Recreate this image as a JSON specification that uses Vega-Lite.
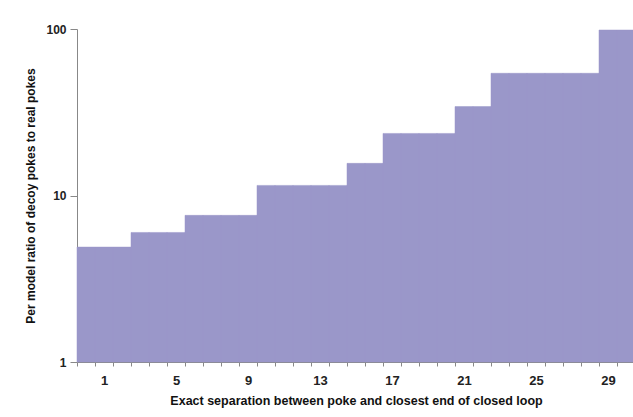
{
  "$schema": "https://vega.github.io/schema/vega-lite/v6.json",
  "autosize": {"type": "none"},
  "width": 558,
  "height": 333,
  "padding": {"left": 77, "top": 29, "right": 0, "bottom": 55},
  "background": "white",
  "config": {"view": {"stroke": null}, "font": "Liberation Sans"},
  "data": {"values": [
    {"sep": 0, "ratio": 4.9}, {"sep": 1, "ratio": 4.9}, {"sep": 2, "ratio": 4.9},
    {"sep": 3, "ratio": 6.0}, {"sep": 4, "ratio": 6.0}, {"sep": 5, "ratio": 6.0},
    {"sep": 6, "ratio": 7.6}, {"sep": 7, "ratio": 7.6}, {"sep": 8, "ratio": 7.6}, {"sep": 9, "ratio": 7.6},
    {"sep": 10, "ratio": 11.5}, {"sep": 11, "ratio": 11.5}, {"sep": 12, "ratio": 11.5}, {"sep": 13, "ratio": 11.5}, {"sep": 14, "ratio": 11.5},
    {"sep": 15, "ratio": 15.6}, {"sep": 16, "ratio": 15.6},
    {"sep": 17, "ratio": 23.6}, {"sep": 18, "ratio": 23.6}, {"sep": 19, "ratio": 23.6}, {"sep": 20, "ratio": 23.6},
    {"sep": 21, "ratio": 34.2}, {"sep": 22, "ratio": 34.2},
    {"sep": 23, "ratio": 54.2}, {"sep": 24, "ratio": 54.2}, {"sep": 25, "ratio": 54.2}, {"sep": 26, "ratio": 54.2}, {"sep": 27, "ratio": 54.2}, {"sep": 28, "ratio": 54.2},
    {"sep": 29, "ratio": 98.6}, {"sep": 30, "ratio": 98.6}
  ]},
  "mark": {"type": "bar", "color": "#9a97c9", "stroke": "#9a97c9", "strokeWidth": 0.5},
  "encoding": {
    "x": {
      "field": "sep", "type": "ordinal",
      "scale": {"paddingInner": 0, "paddingOuter": 0},
      "axis": {
        "title": "Exact separation between poke and closest end of closed loop",
        "titleFontSize": 12.5, "titleFontWeight": "bold", "titleColor": "#111", "titlePadding": 7,
        "labelAngle": 0, "labelFontSize": 13, "labelFontWeight": "bold", "labelColor": "#222",
        "labelPadding": 8,
        "labelExpr": "(datum.value - 1) % 4 == 0 ? datum.label : ''",
        "tickBand": "extent", "tickSize": 4, "tickColor": "#888",
        "domainColor": "#888", "grid": false
      }
    },
    "y": {
      "field": "ratio", "type": "quantitative",
      "scale": {"type": "log", "domain": [1, 100], "nice": false},
      "axis": {
        "title": "Per model ratio of decoy pokes to real pokes",
        "titleFontSize": 12, "titleFontWeight": "bold", "titleColor": "#111", "titlePadding": 8,
        "values": [1, 10, 100], "format": "d",
        "labelFontSize": 12, "labelFontWeight": "bold", "labelColor": "#222", "labelPadding": 4,
        "tickSize": 7, "tickColor": "#888", "domainColor": "#888", "grid": false
      }
    },
    "y2": {"datum": 1}
  }
}
